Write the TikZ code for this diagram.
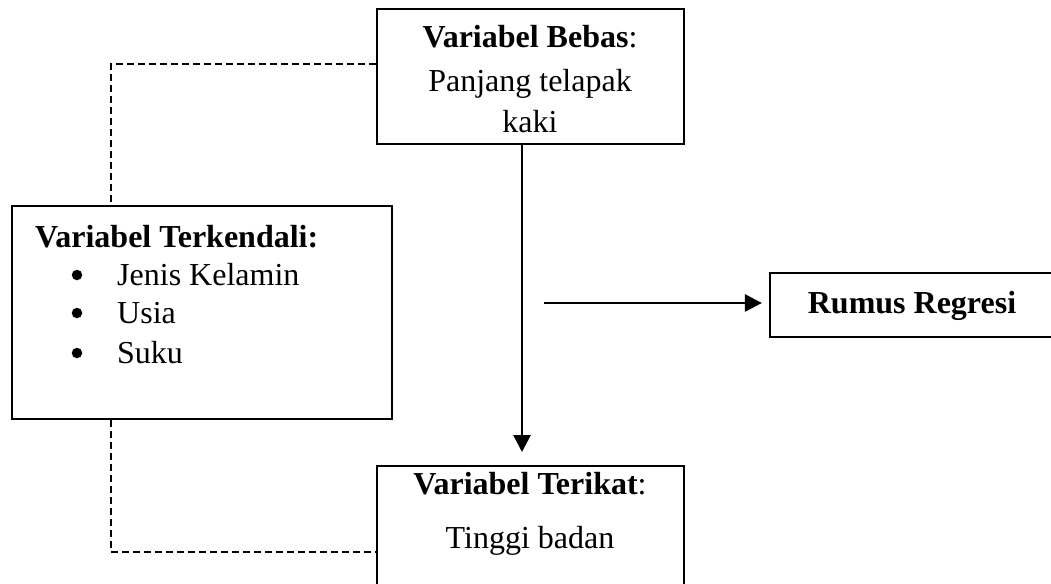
\documentclass[tikz,border=0pt]{standalone}
\usepackage{fontspec}
\setmainfont{Liberation Serif}
\usetikzlibrary{arrows.meta}
\begin{document}
\begin{tikzpicture}[x=1pt,y=-1pt,
  box/.style={draw,line width=2.2pt,rectangle,inner sep=0pt},
  txt/.style={inner sep=0pt,anchor=base,font=\fontsize{32}{38}\selectfont},
  txtl/.style={txt,anchor=base west},
  bul/.style={circle,fill,inner sep=0pt,minimum size=10.5pt},
  dashline/.style={line width=2pt,dash pattern=on 7pt off 4pt},
  arr/.style={line width=2.8pt,-{Triangle[length=17pt,width=17pt]}}]
\useasboundingbox (0,0) rectangle (1051,583);
\clip (0,0) rectangle (1051,583);
% boxes
\node[box,minimum width=307pt,minimum height=135pt] (top) at (530.5,76.5) {};
\node[box,minimum width=380pt,minimum height=213pt] (left) at (202,312.5) {};
\node[box,minimum width=284pt,minimum height=64pt] (rumus) at (912,305) {};
\node[box,minimum width=307pt,minimum height=124pt] (bottom) at (530.5,528) {};
% texts
\node[txt] (t1) at (530,48) {\textbf{Variabel Bebas}:};
\node[txt] (t2) at (530,92) {Panjang telapak};
\node[txt] (t3) at (530,132) {kaki};
\node[txtl] (l0) at (35,247) {\textbf{Variabel Terkendali:}};
\node[txtl] (l1) at (117,285) {Jenis Kelamin};
\node[txtl] (l2) at (117,323) {Usia};
\node[txtl] (l3) at (117,363) {Suku};
\node[bul] (b1) at (77,275) {};
\node[bul] (b2) at (77,313) {};
\node[bul] (b3) at (77,353) {};
\node[txt] (r1) at (912,313) {\textbf{Rumus Regresi}};
\node[txt] (u1) at (530,494) {\textbf{Variabel Terikat}:};
\node[txt] (u2) at (530,548) {Tinggi badan};
% arrows
\coordinate (va) at (522,452);
\draw[arr] (top.south -| va) -- (va);
\coordinate (hs) at (544,303);
\draw[arr] (hs) -- ([xshift=-7pt]rumus.west |- hs);
% dashed
\coordinate (dtop) at (111,64);
\draw[dashline] (top.west |- dtop) -- (dtop) -- (dtop |- left.north);
\coordinate (dbot) at (111,552);
\draw[dashline] (dbot |- left.south) -- (dbot) -- (dbot -| bottom.west);
\end{tikzpicture}
\end{document}
